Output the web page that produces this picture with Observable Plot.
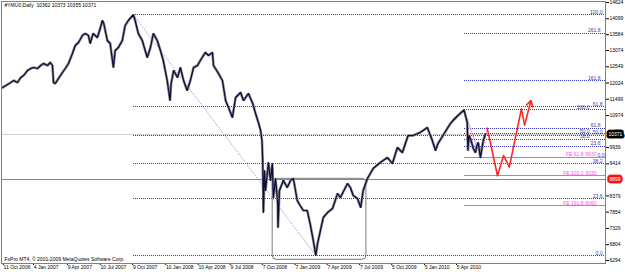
<!DOCTYPE html>
<html><head><meta charset="utf-8">
<script src="https://cdn.jsdelivr.net/npm/d3@7"></script>
<script src="https://cdn.jsdelivr.net/npm/@observablehq/plot@0.6"></script>
<style>body{margin:0;background:#fff}#chart svg{display:block}</style>
</head><body><div id="chart"></div>
<script>
const symbolTitle = "#YMU0,Daily  10362 10373 10355 10371";
const copyright = "FxPro MT4, © 2001-2009 MetaQuotes Software Corp.";

const dates = ["2006-10-09","2006-11-01","2006-11-09","2006-11-20","2006-11-29","2006-12-07","2006-12-18","2006-12-27","2007-01-04","2007-01-15","2007-01-24","2007-02-01","2007-02-12","2007-02-20","2007-02-26","2007-03-01","2007-03-06","2007-03-15","2007-03-26","2007-04-03","2007-04-12","2007-04-23","2007-05-01","2007-05-10","2007-05-21","2007-05-29","2007-06-07","2007-06-12","2007-06-20","2007-07-02","2007-07-10","2007-07-16","2007-07-20","2007-07-30","2007-08-07","2007-08-16","2007-08-21","2007-08-30","2007-09-10","2007-09-18","2007-09-27","2007-10-11","2007-10-16","2007-10-25","2007-11-05","2007-11-19","2007-11-28","2007-12-06","2007-12-17","2007-12-26","2008-01-03","2008-01-14","2008-01-22","2008-01-25","2008-02-01","2008-02-12","2008-02-20","2008-02-29","2008-03-10","2008-03-19","2008-03-28","2008-04-08","2008-04-16","2008-04-30","2008-05-09","2008-05-20","2008-05-23","2008-06-06","2008-06-17","2008-06-26","2008-07-04","2008-07-15","2008-07-24","2008-08-07","2008-08-15","2008-08-29","2008-09-10","2008-09-18","2008-09-26","2008-10-02","2008-10-06","2008-10-08","2008-10-10","2008-10-13","2008-10-16","2008-10-24","2008-10-30","2008-11-04","2008-11-07","2008-11-13","2008-11-19","2008-11-20","2008-11-24","2008-12-05","2008-12-16","2008-12-25","2009-01-02","2009-01-13","2009-01-21","2009-01-30","2009-02-10","2009-02-18","2009-02-27","2009-03-06","2009-03-11","2009-03-19","2009-03-27","2009-04-08","2009-04-22","2009-05-06","2009-05-14","2009-06-03","2009-06-11","2009-06-19","2009-07-01","2009-07-10","2009-07-17","2009-07-29","2009-08-06","2009-08-14","2009-09-03","2009-09-23","2009-10-07","2009-10-21","2009-11-04","2009-11-20","2009-12-04","2009-12-24","2010-01-13","2010-01-27","2010-02-05","2010-02-12","2010-02-26","2010-03-10","2010-03-19","2010-03-26","2010-04-09","2010-04-26","2010-05-05","2010-05-07","2010-05-10","2010-05-14","2010-05-22","2010-05-28","2010-06-01","2010-06-05","2010-06-11","2010-06-19","2010-06-25"];
const closes = [11879,12041,12105,12041,12202,12267,12428,12493,12525,12493,12590,12654,12590,12687,12590,12041,12009,12170,12364,12493,12654,12977,13236,13332,13558,13623,13558,13300,13623,13494,13784,14043,13946,13397,13300,12525,13074,13171,13397,13881,14043,14228,14043,13623,13397,12848,13171,13623,13397,13074,12751,12105,11460,12009,12428,12202,12525,12105,11782,12105,12525,12590,12751,13010,12913,13010,12590,12331,12105,11460,11234,10911,11557,11718,11460,11686,11363,11040,10749,10491,10168,9522,7843,9199,8554,9458,8877,9425,8328,8941,8166,7359,8554,8877,8651,8877,8941,8231,8069,7908,7908,7488,6939,6458,6842,7262,7682,7843,7972,8457,8328,8780,8651,8392,8296,8005,8554,8941,9102,9264,9458,9619,9425,9942,9781,10329,10329,10426,10588,10168,9845,10071,10329,10556,10717,10814,10975,11154,10749,9845,10330,10232,9910,9780,10000,10100,9618,10168,10371];

const xTickDates = ["2006-10-11","2007-01-04","2007-04-09","2007-07-10","2007-10-09","2008-01-10","2008-04-10","2008-07-09","2008-10-07","2009-01-07","2009-04-07","2009-07-07","2009-10-05","2010-01-05","2010-04-05"];
const xTickLabels = ["11 Oct 2006","4 Jan 2007","9 Apr 2007","10 Jul 2007","9 Oct 2007","10 Jan 2008","10 Apr 2008","9 Jul 2008","7 Oct 2008","7 Jan 2009","7 Apr 2009","7 Jul 2009","5 Oct 2009","5 Jan 2010","5 Apr 2010"];
const yTickValues = [14624,14099,13584,13074,12549,12024,11499,10974,9939,9414,8379,7854,7329,6804,6294];

const fib1Start = "2007-10-11";
const fib1Levels = ["0.0","23.6","38.2","50.0","61.8","100.0"];
const fib1Prices = [6458,8292,9426,10343,11260,14228];
const fib2Start = "2010-04-26";
const fib2Levels = ["0.0","23.6","38.2","50.0","61.8","100.0","161.8","261.8"];
const fib2Prices = [9618,9980,10205,10386,10567,11154,12103,13639];
const feStart = "2010-04-26";
const feLabels = ["FE 61.8","FE 100.0","FE 161.8"];
const feValues = ["9630","9030","8060"];
const fePrices = [9630,9030,8060];
const feAnchorDates = ["2010-04-26","2010-06-11","2010-06-30"];
const feAnchorPrices = [11154,9618,10566];
const projDates = ["2010-06-30","2010-07-29","2010-08-15","2010-08-31","2010-10-04","2010-10-13","2010-10-31"];
const projPrices = [10566,9030,9684,9306,11192,10675,11460];
const trendDates = ["2007-10-11","2009-03-06"];
const trendPrices = [14228,6458];
const boxDates = ["2008-11-05","2009-07-26"];
const boxPrices = [6316,8931];
const bidPrice = 10371, bidLabel = "10371";
const alertPrice = 8899, alertLabel = "8899";
const xDomain = ["2006-10-06","2011-05-28"];
const yDomain = [6294,14624];

const P = s => new Date(s + "T00:00:00Z");
const xEnd = P(xDomain[1]);
const price = dates.map((d,i) => ({date: P(d), close: closes[i]}));
const fib1 = fib1Prices.map((p,i) => ({price: p, label: fib1Levels[i], start: P(fib1Start)}));
const fib2 = fib2Prices.map((p,i) => ({price: p, label: fib2Levels[i], start: P(fib2Start)}));
const fib2Shift = {"100.0": -16, "50.0": -16, "38.2": -16, "0.0": -1};
const fe = fePrices.map((p,i) => ({price: p, label: feLabels[i], value: feValues[i], start: P(feStart)}));
const feAnchors = feAnchorDates.map((d,i) => ({date: P(d), price: feAnchorPrices[i]}));
const proj = projDates.map((d,i) => ({date: P(d), price: projPrices[i]}));
const trend = trendDates.map((d,i) => ({date: P(d), price: trendPrices[i]}));
const box = [{x1: P(boxDates[0]), x2: P(boxDates[1]), y1: boxPrices[0], y2: boxPrices[1]}];
const labelMap = new Map(xTickDates.map((d,i) => [+P(d), xTickLabels[i]]));
const n = proj.length;

const fibColor = "#3a3ab0", feColor = "#ff50ee", redColor = "#ff2626";
const FS = 5;
const dots = {strokeDasharray: "1,1", shapeRendering: "crispEdges"};

const fib2Shifted = fib2.filter(d => d.label in fib2Shift);
const fib2Plain = fib2.filter(d => !(d.label in fib2Shift));

const chart = Plot.plot({
  width: 625, height: 272,
  marginLeft: 1, marginRight: 20, marginTop: 1, marginBottom: 9,
  style: {fontFamily: "'Liberation Sans', Arial, sans-serif", fontSize: FS + "px", background: "#fff", color: "#000", overflow: "visible"},
  x: {type: "utc", domain: xDomain.map(P), range: [1, 605], ticks: xTickDates.map(P), tickFormat: d => labelMap.get(+d), tickSize: 2, tickPadding: 0, label: null},
  y: {domain: yDomain, range: [260, 2], axis: "right", ticks: yTickValues, tickFormat: d => String(d), tickSize: 3, tickPadding: 1, label: null},
  marks: [
    Plot.ruleY([bidPrice], {stroke: "#d0d0d0", shapeRendering: "crispEdges"}),
    Plot.ruleY([alertPrice], {stroke: "#f25858", shapeRendering: "crispEdges"}),
    Plot.ruleY(fib1, {y: "price", x1: "start", x2: () => xEnd, stroke: fibColor, ...dots}),
    Plot.ruleY(fib2, {y: "price", x1: "start", x2: () => xEnd, stroke: fibColor, ...dots}),
    Plot.line(trend, {x: "date", y: "price", stroke: "#9a9ae0", strokeWidth: 0.9, strokeDasharray: "1,2"}),
    Plot.ruleY(fe, {y: "price", x1: "start", x2: () => xEnd, stroke: feColor, shapeRendering: "crispEdges"}),
    Plot.line(feAnchors, {x: "date", y: "price", stroke: feColor, strokeWidth: 0.9, strokeDasharray: "1,1.5"}),
    Plot.rect(box, {x1: "x1", x2: "x2", y1: "y1", y2: "y2", fill: "none", stroke: "#7a7a7a", rx: 4}),
    Plot.line(price, {x: "date", y: "close", stroke: "#8a8a8a", strokeWidth: 2.6, strokeLinejoin: "miter"}),
    Plot.line(price, {x: "date", y: "close", stroke: "#0a0a3c", strokeWidth: 1.2}),
    Plot.line(proj.slice(0, n - 1), {x: "date", y: "price", stroke: redColor, strokeWidth: 1.6}),
    Plot.arrow([{a: proj[n-2], b: proj[n-1]}], {x1: d => d.a.date, y1: d => d.a.price, x2: d => d.b.date, y2: d => d.b.price, stroke: redColor, strokeWidth: 1.6, headLength: 6}),
    Plot.text(fib1, {y: "price", text: "label", frameAnchor: "right", textAnchor: "end", dx: -3, dy: -2.5, fill: fibColor, fontSize: FS}),
    Plot.text(fib2Plain, {y: "price", text: "label", frameAnchor: "right", textAnchor: "end", dx: -5, dy: -2.5, fill: fibColor, fontSize: FS}),
    ...fib2Shifted.map(d => Plot.text([d], {y: "price", text: "label", frameAnchor: "right", textAnchor: "end", dx: fib2Shift[d.label], dy: -2.5, fill: fibColor, fontSize: FS})),
    Plot.text(fe, {y: "price", text: "label", frameAnchor: "right", textAnchor: "end", dx: -22, dy: -2.5, fill: feColor, fontSize: FS}),
    Plot.text(fe, {y: "price", text: "value", frameAnchor: "right", textAnchor: "end", dx: -9, dy: -2.5, fill: feColor, fontSize: FS}),
    Plot.text([symbolTitle], {frameAnchor: "top-left", dx: 3, dy: 2, fill: "#000", fontSize: FS}),
    Plot.text([copyright], {frameAnchor: "bottom-left", dx: 3, dy: -3, fill: "#000", fontSize: FS}),
    Plot.text([bidPrice], {y: d => d, text: () => bidLabel, frameAnchor: "right", textAnchor: "start", dx: 3, fill: "#fff", stroke: "#000", strokeWidth: 5, fontSize: FS}),
    Plot.text([alertPrice], {y: d => d, text: () => alertLabel, frameAnchor: "right", textAnchor: "start", dx: 4, fill: "#fff", stroke: "#ff1010", strokeWidth: 5, fontSize: FS}),
    Plot.frame({stroke: "#808080", shapeRendering: "crispEdges"})
  ]
});
document.getElementById("chart").appendChild(chart);
d3.select(chart).selectAll('g[aria-label^="x-axis"] text').attr("text-anchor", "start").attr("dx", "0.3");
d3.select(chart).selectAll('g[aria-label^="x-axis"]').attr("text-anchor", "start");
</script>
</body></html>
